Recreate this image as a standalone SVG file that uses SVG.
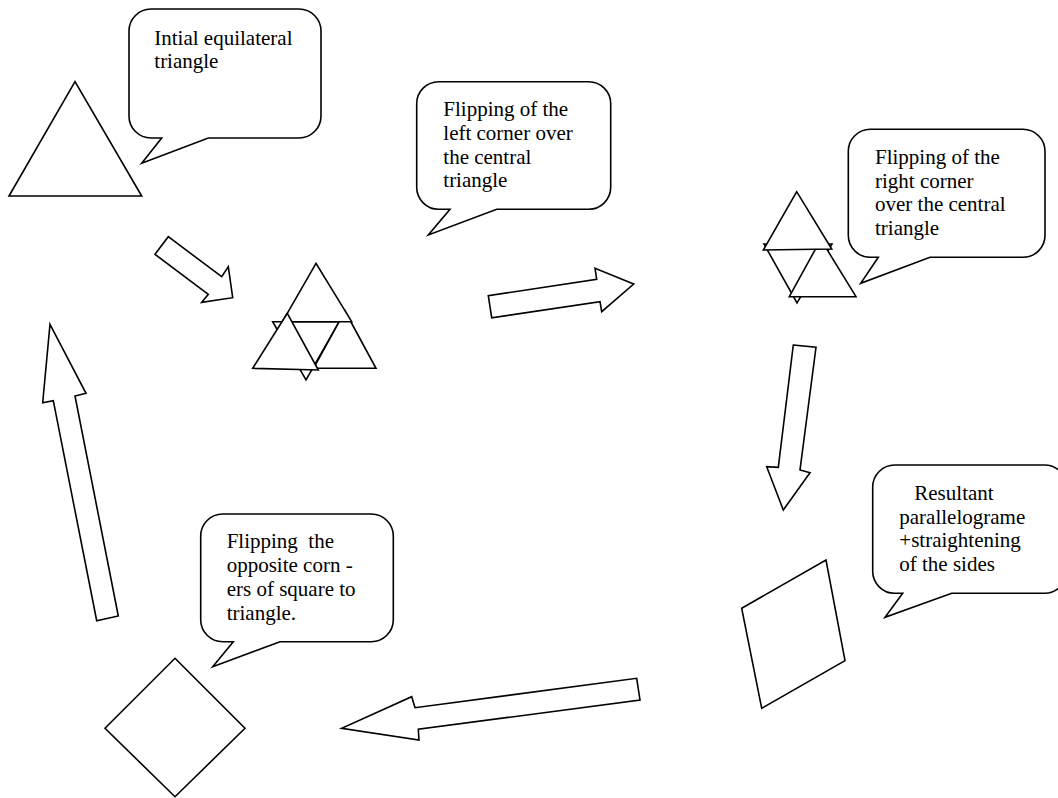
<svg xmlns="http://www.w3.org/2000/svg" width="1058" height="798" viewBox="0 0 1058 798">
<style>
.s{fill:#fff;stroke:#000;stroke-width:1.6;stroke-linejoin:miter}
.t{font-family:"Liberation Serif","Times New Roman",serif;font-size:21px;fill:#000;white-space:pre}
</style>
<rect width="1058" height="798" fill="#fff"/>
<g id="connectors">
<polygon class="s" points="155,254.3 168.3,236.7 221.7,276.7 228.3,266.7 232.7,297.7 201.7,302.3 208.3,294.3"/>
<polygon class="s" points="488.3,295.7 491.7,317.8 600,301.7 601.7,311.7 633.7,284 595,268.3 596.7,279.3"/>
<polygon class="s" points="793.3,345 816,347.3 800,470 810,472.7 783.3,510 766.7,466.7 778.3,467.3"/>
<polygon class="s" points="636.7,678.3 640,700 418.3,729.3 419,740 341.7,728.3 411.7,696.7 415,707.7"/>
<polygon class="s" points="50,324.3 86,393.3 75,396 118.3,616 96.7,620.7 53.3,400.7 42.7,402.7"/>
</g>
<g id="triangle1"><polygon class="s" points="75,81.7 9,196 141.7,196"/></g>
<g id="figure2">
<polygon class="s" points="272.7,321.7 339.3,321.7 306,380"/>
<polygon class="s" points="345,311 313.5,368.3 376,368.3"/>
<polygon class="s" points="316,263.3 282.5,321.7 351.7,321.7"/>
<polygon class="s" points="287.3,313.3 252.7,368.3 318.3,370"/>
</g>
<g id="figure3">
<polygon class="s" points="764,244 832,244 797,303"/>
<polygon class="s" points="820.8,239.4 789.3,296.7 856,296.7"/>
<polygon class="s" points="796.7,191.7 763.3,250 831.7,249"/>
</g>
<g id="parallelogram"><polygon class="s" points="741.7,608.3 826,560 845,660.7 761.7,708.3"/></g>
<g id="square"><polygon class="s" points="175,658.3 245,728.3 175,796.7 105,728.3"/></g>
<g id="bubble1">
<path class="s" d="M151,9 H299 A22,22 0 0 1 321,31 V116 A22,22 0 0 1 299,138 H208.3 L141.7,163.3 L161.7,138 H151 A22,22 0 0 1 129,116 V31 A22,22 0 0 1 151,9 Z"/>
<text class="t"><tspan x="154.3" y="45">Intial equilateral</tspan><tspan x="154.3" y="68">triangle</tspan></text>
</g>
<g id="bubble2">
<path class="s" d="M438.7,81.7 H588.7 A22,22 0 0 1 610.7,103.7 V187.3 A22,22 0 0 1 588.7,209.3 H496.7 L428.3,235 L450,209.3 H438.7 A22,22 0 0 1 416.7,187.3 V103.7 A22,22 0 0 1 438.7,81.7 Z"/>
<text class="t"><tspan x="443.3" y="116">Flipping of the</tspan><tspan x="443.3" y="139.8">left corner over</tspan><tspan x="443.3" y="163.6">the central</tspan><tspan x="443.3" y="187.3">triangle</tspan></text>
</g>
<g id="bubble3">
<path class="s" d="M870.3,129.3 H1023 A22,22 0 0 1 1045,151.3 V235.3 A22,22 0 0 1 1023,257.3 H930 L860.7,283.3 L878.3,257.3 H870.3 A22,22 0 0 1 848.3,235.3 V151.3 A22,22 0 0 1 870.3,129.3 Z"/>
<text class="t"><tspan x="875" y="164">Flipping of the</tspan><tspan x="875" y="187.7">right corner</tspan><tspan x="875" y="211.4">over the central</tspan><tspan x="875" y="235">triangle</tspan></text>
</g>
<g id="bubble4">
<path class="s" d="M894.7,465 H1044.7 A22,22 0 0 1 1066.7,487 V571.3 A22,22 0 0 1 1044.7,593.3 H951.7 L885,617.3 L902.7,593.3 H894.7 A22,22 0 0 1 872.7,571.3 V487 A22,22 0 0 1 894.7,465 Z"/>
<text class="t"><tspan x="914.3" y="500">Resultant</tspan><tspan x="899.3" y="523.5">parallelograme</tspan><tspan x="899.3" y="547">+straightening</tspan><tspan x="899.3" y="570.5">of the sides</tspan></text>
</g>
<g id="bubble5">
<path class="s" d="M222.7,514 H371.3 A22,22 0 0 1 393.3,536 V619.7 A22,22 0 0 1 371.3,641.7 H280 L212.7,666.7 L233.3,641.7 H222.7 A22,22 0 0 1 200.7,619.7 V536 A22,22 0 0 1 222.7,514 Z"/>
<text class="t"><tspan x="226.7" y="548">Flipping  the</tspan><tspan x="226.7" y="572">opposite corn -</tspan><tspan x="226.7" y="596">ers of square to</tspan><tspan x="226.7" y="620">triangle.</tspan></text>
</g>
</svg>
